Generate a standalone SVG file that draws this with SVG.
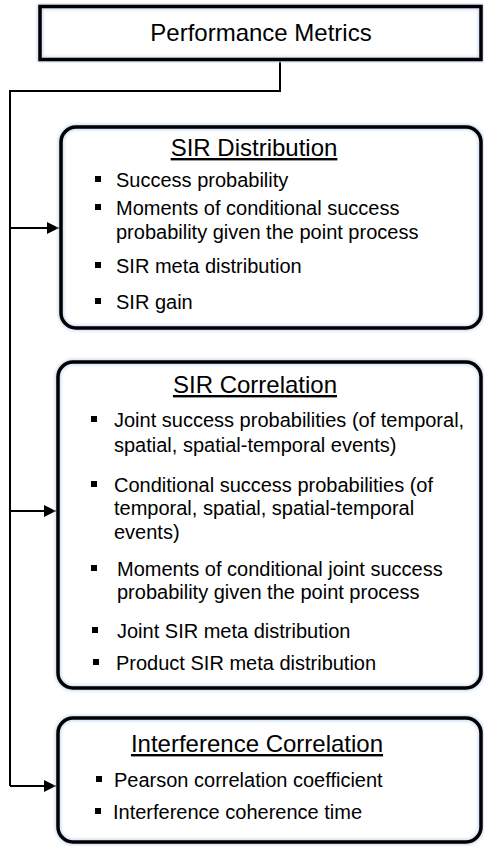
<svg xmlns="http://www.w3.org/2000/svg" width="484" height="846" viewBox="0 0 484 846">
  <defs>
    <style>
      text { font-family: "Liberation Sans", Arial, sans-serif; fill: #000; }
      .title { font-size: 24px; text-anchor: middle; text-decoration: underline; }
      .head { font-size: 24px; text-anchor: middle; }
      .item { font-size: 20px; }
      .box { fill: none; stroke: #000; stroke-width: 3.5; }
      .bg { fill: #fff; stroke: none; }
      .halo { fill: none; stroke: #c9dcf0; stroke-width: 6; filter: url(#soft); }
      .bullet { fill: #000; }
      .wire { fill: none; stroke: #000; stroke-width: 2; }
    </style>
    <filter id="soft" x="-5%" y="-5%" width="110%" height="110%">
      <feGaussianBlur stdDeviation="1.8"/>
    </filter>
    <marker id="arrow" viewBox="0 0 12 12" refX="12" refY="6" markerWidth="12" markerHeight="12" markerUnits="userSpaceOnUse" orient="auto">
      <path d="M0,0 L12,6 L0,12 Z" fill="#000"/>
    </marker>
  </defs>

  <!-- connectors -->
  <g id="connectors">
    <path class="wire" d="M280,60 V91 H10 V786"/>
    <path class="wire" d="M10,228 H59" marker-end="url(#arrow)"/>
    <path class="wire" d="M10,511 H56" marker-end="url(#arrow)"/>
    <path class="wire" d="M10,786 H56" marker-end="url(#arrow)"/>
  </g>

  <!-- root node -->
  <g id="performance-metrics">
    <rect class="bg" x="40" y="6.5" width="441" height="53"/>
    <rect class="halo" x="40" y="6.5" width="441" height="53"/>
    <rect class="box" x="40" y="6.5" width="441" height="53"/>
    <text class="head" x="261" y="41">Performance Metrics</text>
  </g>

  <!-- SIR distribution -->
  <g id="sir-distribution">
    <rect class="bg" x="61" y="127" width="420" height="201" rx="15"/>
    <rect class="halo" x="61" y="127" width="420" height="201" rx="15"/>
    <rect class="box" x="61" y="127" width="420" height="201" rx="15"/>
    <text class="title" x="254" y="156">SIR Distribution</text>
    <rect class="bullet" x="95" y="176" width="6" height="6"/>
    <text class="item" x="116" y="187">Success probability</text>
    <rect class="bullet" x="95" y="204" width="6" height="6"/>
    <text class="item" x="116" y="215">Moments of conditional success</text>
    <text class="item" x="116" y="239">probability given the point process</text>
    <rect class="bullet" x="95" y="262" width="6" height="6"/>
    <text class="item" x="116" y="273">SIR meta distribution</text>
    <rect class="bullet" x="95" y="298" width="6" height="6"/>
    <text class="item" x="116" y="309">SIR gain</text>
  </g>

  <!-- SIR correlation -->
  <g id="sir-correlation">
    <rect class="bg" x="58" y="362" width="423" height="326" rx="15"/>
    <rect class="halo" x="58" y="362" width="423" height="326" rx="15"/>
    <rect class="box" x="58" y="362" width="423" height="326" rx="15"/>
    <text class="title" x="255" y="393">SIR Correlation</text>
    <rect class="bullet" x="91" y="416" width="6" height="6"/>
    <text class="item" x="114" y="427">Joint success probabilities (of temporal,</text>
    <text class="item" x="114" y="452">spatial, spatial-temporal events)</text>
    <rect class="bullet" x="91" y="481" width="6" height="6"/>
    <text class="item" x="114" y="492">Conditional success probabilities (of</text>
    <text class="item" x="114" y="515">temporal, spatial, spatial-temporal</text>
    <text class="item" x="114" y="539">events)</text>
    <rect class="bullet" x="91" y="565" width="6" height="6"/>
    <text class="item" x="117" y="576">Moments of conditional joint success</text>
    <text class="item" x="117" y="599">probability given the point process</text>
    <rect class="bullet" x="92" y="627" width="6" height="6"/>
    <text class="item" x="117" y="638">Joint SIR meta distribution</text>
    <rect class="bullet" x="93" y="659" width="6" height="6"/>
    <text class="item" x="116" y="670">Product SIR meta distribution</text>
  </g>

  <!-- interference correlation -->
  <g id="interference-correlation">
    <rect class="bg" x="58" y="718" width="423" height="124" rx="15"/>
    <rect class="halo" x="58" y="718" width="423" height="124" rx="15"/>
    <rect class="box" x="58" y="718" width="423" height="124" rx="15"/>
    <text class="title" x="257" y="752">Interference Correlation</text>
    <rect class="bullet" x="96" y="776" width="6" height="6"/>
    <text class="item" x="114" y="787">Pearson correlation coefficient</text>
    <rect class="bullet" x="95" y="808" width="6" height="6"/>
    <text class="item" x="113" y="819">Interference coherence time</text>
  </g>
</svg>
